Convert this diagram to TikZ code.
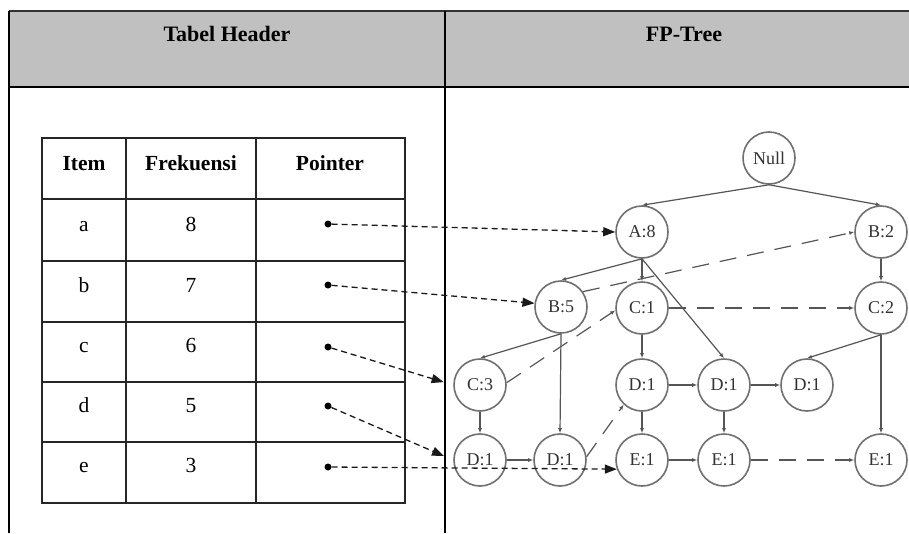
\documentclass[tikz,border=0pt]{standalone}
\usepackage{fontspec}
\setmainfont{Liberation Serif}
\usetikzlibrary{arrows.meta}
\definecolor{hdrgray}{HTML}{C0C0C0}
\definecolor{nodegray}{HTML}{707070}
\definecolor{edgegray}{HTML}{555555}
\begin{document}
\begin{tikzpicture}[x=1pt,y=-1pt,
  fpnode/.style={circle,draw=nodegray,line width=1.6pt,minimum size=52pt,inner sep=0pt,text=black!80,font=\fontsize{18}{20}\selectfont},
  tedge/.style={draw=edgegray,line width=1.2pt,-{Latex[length=5pt,width=4pt]}},
  tlink/.style={tedge,dash pattern=on 17pt off 11pt},
  ptr/.style={draw=black!90,line width=1.3pt,dash pattern=on 6pt off 4pt,-{Triangle[length=12pt,width=9pt]}},
  dotn/.style={circle,fill=black,inner sep=0pt,minimum size=7pt},
  gridline/.style={draw=black!85,line width=1.2pt},
  hdr/.style={font=\fontsize{22}{26}\selectfont\bfseries,anchor=base},
  thead/.style={font=\fontsize{21.5}{24}\selectfont\bfseries,anchor=base},
  tcell/.style={font=\fontsize{21.5}{24}\selectfont,anchor=base},
  ]
\useasboundingbox (0,0) rectangle (909,533);
\fill[white] (0,0) rectangle (909,533);
% frame
\fill[hdrgray] (9,11) rectangle (909,87);
\draw[line width=1.2pt,black!80] (9,11) -- (909,11);
\draw[line width=1.6pt] (9,87) -- (909,87);
\draw[line width=1.3pt] (9,11) -- (9,533);
\draw[line width=1.3pt] (445,11) -- (445,533);
\node[hdr] (h1) at (227,41) {Tabel Header};
\node[hdr] (h2) at (684,41) {FP-Tree};
% table
\draw[gridline] (42,138) rectangle (405,503);
\foreach \yy in {199,261,322,382,442} \draw[gridline] (42,\yy) -- (405,\yy);
\draw[gridline] (126,138) -- (126,503);
\draw[gridline] (256,138) -- (256,503);
\node[thead] (th1) at (84,170) {Item};
\node[thead] (th2) at (191,170) {Frekuensi};
\node[thead] (th3) at (330,170) {Pointer};
\node[tcell] (ia) at (84,231) {a};
\node[tcell] (fa) at (191,231) {8};
\node[tcell] (ib) at (84,292) {b};
\node[tcell] (fb) at (191,292) {7};
\node[tcell] (ic) at (84,352) {c};
\node[tcell] (fc) at (191,352) {6};
\node[tcell] (id) at (84,412) {d};
\node[tcell] (fd) at (191,412) {5};
\node[tcell] (ie) at (84,472) {e};
\node[tcell] (fe) at (191,472) {3};
\node[dotn] (pa) at (328,224) {};
\node[dotn] (pb) at (328,285) {};
\node[dotn] (pc) at (328,347) {};
\node[dotn] (pd) at (328,406) {};
\node[dotn] (pe) at (328,467) {};
% tree nodes
\node[fpnode] (null) at (769,158) {Null};
\node[fpnode] (a8) at (642,232) {A:8};
\node[fpnode] (b2) at (881,232) {B:2};
\node[fpnode] (b5) at (561,307) {B:5};
\node[fpnode] (c1) at (642,308) {C:1};
\node[fpnode] (c2) at (881,308) {C:2};
\node[fpnode] (c3) at (480,385) {C:3};
\node[fpnode] (d1c) at (642,385) {D:1};
\node[fpnode] (d1d) at (724,385) {D:1};
\node[fpnode] (d1e) at (807,385) {D:1};
\node[fpnode] (d1a) at (480,460) {D:1};
\node[fpnode] (d1b) at (560,460) {D:1};
\node[fpnode] (e1a) at (642,460) {E:1};
\node[fpnode] (e1b) at (724,460) {E:1};
\node[fpnode] (e1c) at (881,460) {E:1};
% tree edges
\draw[tedge] (null.south) -- (a8.north);
\draw[tedge] (null.south) -- (b2.north);
\draw[tedge] (a8.south) -- (b5.north);
\draw[tedge] (a8.south) -- (c1.north);
\draw[tedge] (a8.south) -- (d1d.north);
\draw[tedge] (b2.south) -- (c2.north);
\draw[tedge] (b5.south) -- (c3.north);
\draw[tedge] (b5.south) -- (d1b.north);
\draw[tedge] (c1.south) -- (d1c.north);
\draw[tedge] (c2.south) -- (d1e.north);
\draw[tedge] (c2.south) -- (e1c.north);
\draw[tedge] (c3.south) -- (d1a.north);
\draw[tedge] (d1a.east) -- (d1b.west);
\draw[tedge] (d1c.east) -- (d1d.west);
\draw[tedge] (d1d.east) -- (d1e.west);
\draw[tedge] (d1c.south) -- (e1a.north);
\draw[tedge] (d1d.south) -- (e1b.north);
\draw[tedge] (e1a.east) -- (e1b.west);
% node links
\draw[tlink] (b5.35) -- (b2.west);
\draw[tlink] (c3.5) -- (c1.185);
\draw[tlink] (d1b.7) -- (d1c.227);
\draw[tlink] (c1.east) -- (c2.west);
\draw[tlink] (e1b.east) -- (e1c.west);
% pointers
\draw[ptr] (pa) -- (a8.west);
\draw[ptr] (pb) -- (b5.172);
\draw[ptr,shorten >=10pt] (pc) -- (c3.west);
\draw[ptr,shorten >=10pt] (pd) -- (d1a.west);
\draw[ptr] (pe) -- (e1a.200);
\end{tikzpicture}
\end{document}
